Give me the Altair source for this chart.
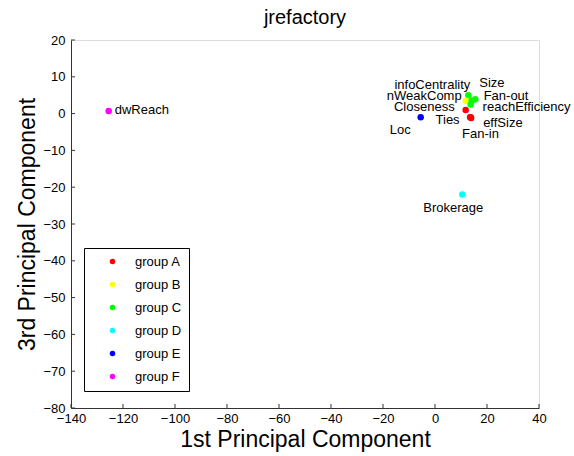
import altair as alt
import pandas as pd

# ---- data ----
names = ["dwReach", "Brokerage", "Loc", "infoCentrality", "Size", "nWeakComp",
         "Fan-out", "Closeness", "reachEfficiency", "Ties", "effSize", "Fan-in"]
pc1 = [-125.5, 10.5, -5.5, 12.8, 15.5, 11.8, 14.1, 11.8, 13.7, 13.7, 13.9, 13.5]
pc3 = [0.7, -22.0, -1.0, 5.0, 3.9, 3.5, 3.5, 1.0, 2.5, -1.0, -1.2, -1.0]
groups = ["group F", "group D", "group E", "group C", "group C", "group B",
          "group C", "group A", "group C", "group A", "group A", "group A"]

group_names = ["group A", "group B", "group C", "group D", "group E", "group F"]
group_colors = ["#FF0000", "#FFFF00", "#00FF00", "#00FFFF", "#0000FF", "#FF00FF"]

x_ticks = [-140, -120, -100, -80, -60, -40, -20, 0, 20, 40]
y_ticks = [20, 10, 0, -10, -20, -30, -40, -50, -60, -70, -80]

# label placement (pixel offsets from each point, and alignment) -- style only
label_style = {
    "dwReach": (6, -1, "left"),
    "Brokerage": (-9, 13, "center"),
    "Loc": (-10, 13, "right"),
    "infoCentrality": (2, -10, "right"),
    "Size": (4, -16, "left"),
    "nWeakComp": (-4, -5, "right"),
    "Fan-out": (12, -5, "left"),
    "Closeness": (-11, -3, "right"),
    "reachEfficiency": (12, 3, "left"),
    "Ties": (-11, 3, "right"),
    "effSize": (12, 5, "left"),
    "Fan-in": (-8, 17, "left"),
}

FONT = "Liberation Sans"
W, H = 468, 368
XMIN, XMAX = -140, 40
YMIN, YMAX = -80, 20
TICK_PX = 4

df = pd.DataFrame({"name": names, "pc1": pc1, "pc3": pc3, "group": groups})

xs = alt.Scale(domain=[XMIN, XMAX], nice=False, zero=False)
ys = alt.Scale(domain=[YMIN, YMAX], nice=False, zero=False)

xaxis = alt.Axis(values=x_ticks, ticks=False, grid=False, labelFlush=False,
                 labelFontSize=13, labelFont=FONT, labelColor="black", labelPadding=4,
                 domainColor="#333333", title="1st Principal Component",
                 titleFontSize=23, titleFont=FONT, titleFontWeight="normal",
                 titleColor="black", titlePadding=3, labelOverlap=False)
yaxis = alt.Axis(values=y_ticks, ticks=False, grid=False, labelFlush=False,
                 labelFontSize=13, labelFont=FONT, labelColor="black", labelPadding=6,
                 domainColor="#333333", title="3rd Principal Component",
                 titleFontSize=23, titleFont=FONT, titleFontWeight="normal",
                 titleColor="black", titlePadding=3, labelOverlap=False)

base = alt.Chart(df)

points = base.mark_circle(size=42, opacity=1).encode(
    x=alt.X("pc1:Q", scale=xs, axis=xaxis),
    y=alt.Y("pc3:Q", scale=ys, axis=yaxis),
    color=alt.Color("group:N",
                    scale=alt.Scale(domain=group_names, range=group_colors),
                    legend=alt.Legend(orient="none", legendX=13, legendY=208,
                                      title=None, strokeColor="black",
                                      fillColor="white", padding=7,
                                      symbolType="circle", symbolSize=30,
                                      symbolStrokeWidth=0, symbolOpacity=1,
                                      labelFontSize=13, labelFont=FONT,
                                      labelColor="black", rowPadding=9,
                                      symbolOffset=15, labelOffset=16)),
)

label_layers = []
for nm in names:
    dx, dy, al = label_style[nm]
    label_layers.append(
        base.transform_filter(alt.datum.name == nm).mark_text(
            dx=dx, dy=dy, align=al, baseline="middle", fontSize=13, font=FONT,
            color="black"
        ).encode(x=alt.X("pc1:Q", scale=xs, axis=xaxis),
                 y=alt.Y("pc3:Q", scale=ys, axis=yaxis), text="name:N")
    )

# inward-pointing ticks (MATLAB style), lengths converted to data units
dx_unit = (XMAX - XMIN) / W
dy_unit = (YMAX - YMIN) / H
xt = pd.DataFrame({"v": x_ticks})
yt = pd.DataFrame({"v": y_ticks})
xtick_rules = alt.Chart(xt).mark_rule(color="#333333").encode(
    x=alt.X("v:Q", scale=xs, axis=xaxis),
    y=alt.datum(YMIN, scale=ys, axis=yaxis),
    y2=alt.datum(YMIN + TICK_PX * dy_unit),
)
ytick_rules = alt.Chart(yt).mark_rule(color="#333333").encode(
    y=alt.Y("v:Q", scale=ys, axis=yaxis),
    x=alt.datum(XMIN, scale=xs, axis=xaxis),
    x2=alt.datum(XMIN + TICK_PX * dx_unit),
)

chart = alt.layer(points, xtick_rules, ytick_rules, *label_layers).properties(
    width=W, height=H,
    title=alt.TitleParams("jrefactory", fontSize=20, font=FONT, fontWeight="normal",
                          color="black", baseline="alphabetic", frame="group",
                          offset=16, dy=26),
    autosize=alt.AutoSizeParams(type="none"),
    padding={"left": 71, "top": 40, "right": 35, "bottom": 48},
).configure_view(stroke="transparent", strokeWidth=0).configure(background="white")

chart.save("out.html", embed_options={"renderer": "svg", "actions": False})
